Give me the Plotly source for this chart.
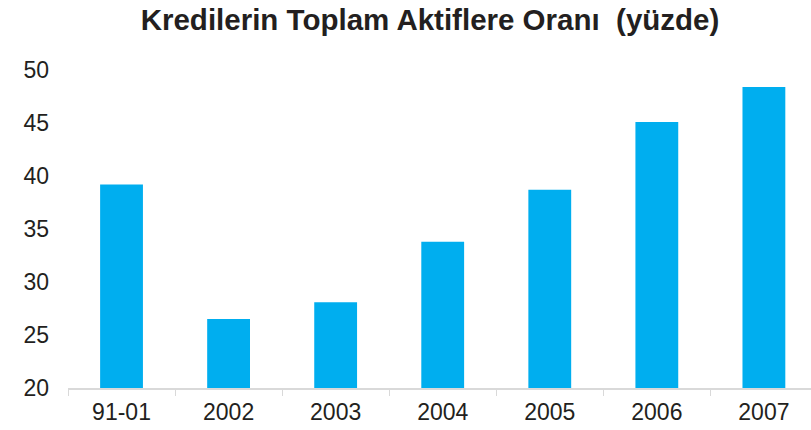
import plotly.graph_objects as go

categories = ["91-01", "2002", "2003", "2004", "2005", "2006", "2007"]
values = [39.2, 26.5, 28.1, 33.8, 38.7, 45.1, 48.4]
y_ticks = [20, 25, 30, 35, 40, 45, 50]

fig = go.Figure(go.Bar(
    x=categories, y=values, marker=dict(color="#00AEEF", line=dict(width=0)),
    width=0.4, hoverinfo="skip",
))

fig.update_layout(
    width=811, height=430,
    margin=dict(l=68, r=0, t=70, b=42),
    paper_bgcolor="white", plot_bgcolor="white",
    showlegend=False,
    title=dict(text="<b>Kredilerin Toplam Aktiflere Oranı  (yüzde)</b>",
               x=430/811, xanchor="center", y=1 - 20/430, yanchor="middle",
               font=dict(family="Liberation Sans, Arial", size=29.5, color="#231F20")),
    font=dict(family="Liberation Sans, Arial", size=23, color="#231F20"),
)
fig.update_xaxes(
    range=[-0.5, 6.44], showline=True, linecolor="#D9D9D9", linewidth=1.5,
    ticks="outside", tickson="boundaries", ticklen=6, tickcolor="#D9D9D9",
    showgrid=False, tickfont=dict(size=23), fixedrange=True, ticklabelstandoff=3,
)
fig.update_yaxes(
    range=[20, 50], tickvals=y_ticks, showgrid=False, zeroline=False,
    showline=False, ticks="", ticklabelstandoff=18, tickfont=dict(size=23),
    fixedrange=True,
)

fig.write_html("out.html", config={"displayModeBar": False},
               post_script="document.body.style.margin='0';document.body.style.overflow='hidden';")
